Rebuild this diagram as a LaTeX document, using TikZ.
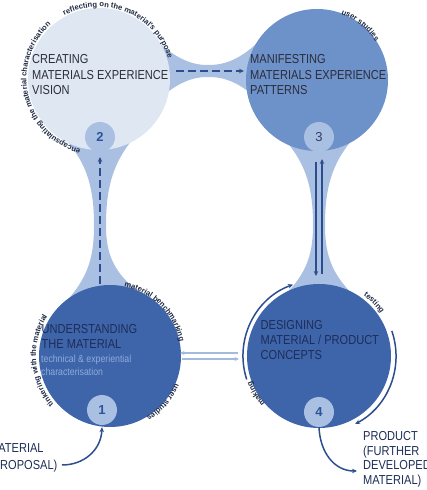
\documentclass[tikz,border=0pt]{standalone}
\usepackage{fontspec}
\setmainfont{Liberation Sans}
\newfontfamily\ttlfont[FakeStretch=0.85]{Liberation Sans}
\newfontfamily\arcfont{Liberation Sans}
\usetikzlibrary{decorations.text,arrows.meta}
\definecolor{lightc}{HTML}{DFE7F3}
\definecolor{midc}{HTML}{6D91C9}
\definecolor{darkc}{HTML}{3E64AA}
\definecolor{bridgec}{HTML}{A9C0E2}
\definecolor{arrowc}{HTML}{2D4E8E}
\definecolor{arctxt}{HTML}{1E2A44}
\definecolor{ttlgray}{HTML}{2B2D3A}
\definecolor{ttlnavy}{HTML}{1E2D58}
\definecolor{softtxt}{HTML}{8FACDA}
\definecolor{lightarr}{HTML}{A3B9DD}
\definecolor{numc}{HTML}{2F5399}
\begin{document}
\begin{tikzpicture}[x=1pt,y=1pt,
  bigc/.style={circle,inner sep=0pt,minimum size=#1},
  smallc/.style={circle,inner sep=0pt,minimum size=30pt,fill=bridgec,
     font=\fontsize{13}{13}\selectfont\bfseries,text=numc},
  ttl/.style={inner sep=0pt,anchor=base west,font=\ttlfont\fontsize{13}{15}\selectfont},
  soft/.style={inner sep=0pt,anchor=base west,text=softtxt,font=\ttlfont\fontsize{10.3}{13}\selectfont},
  dasharrow/.style={draw=arrowc,line width=1.5pt,dash pattern=on 8pt off 4pt,-{Stealth[length=5pt,width=4.5pt]}},
  darkarrow/.style={draw=arrowc,line width=1.5pt,-{Stealth[length=5pt,width=4.5pt]}},
  lightarrow/.style={draw=lightarr,line width=1.4pt,-{Stealth[length=4.5pt,width=4pt]}},
  arctext/.style={decorate,decoration={text along path,text align=center,
     text color=arctxt,text={|\arcfont\bfseries\fontsize{7.6}{8}\selectfont|#1}}}
]
\useasboundingbox (0,0) rectangle (426,490);
\clip (0,0) rectangle (426,490);

% bridges
\fill[bridgec] (150,455) .. controls (178,428) and (195,425) .. (208,425)
  .. controls (222,425) and (240,428) .. (265,455) -- (265,383)
  .. controls (240,410) and (222,413) .. (208,413)
  .. controls (195,413) and (178,410) .. (150,383) -- cycle;
\fill[bridgec] (66,350) .. controls (88,325) and (94,300) .. (94,265)
  .. controls (94,232) and (88,212) .. (64,186) -- (156,186)
  .. controls (115,212) and (106,232) .. (106,265)
  .. controls (106,300) and (112,325) .. (132,350) -- cycle;
\fill[bridgec] (285,350) .. controls (307,325) and (313,300) .. (313,265)
  .. controls (313,232) and (305,212) .. (275,186) -- (363,186)
  .. controls (333,212) and (325,232) .. (325,265)
  .. controls (325,300) and (331,325) .. (352,350) -- cycle;

% big circles
\node[bigc=142pt,fill=lightc] (C2) at (99,411) {};
\node[bigc=142pt,fill=midc] (C3) at (317,410) {};
\node[bigc=142pt,fill=darkc] (C1) at (110,134) {};
\node[bigc=144pt,fill=darkc] (C4) at (319,134) {};

% small circles
\node[smallc] (S2) at (100,353) {2};
\node[smallc,text=ttlnavy!80!gray,font=\fontsize{13}{13}\selectfont] (S3) at (319,353) {3};
\node[smallc] (S1) at (102,80) {1};
\node[smallc] (S4) at (319,78) {4};

% titles
\node[ttl,text=ttlgray] (t2a) at (32,426) {CREATING};
\node[ttl,text=ttlgray] (t2b) at (32,410.5) {MATERIALS EXPERIENCE};
\node[ttl,text=ttlgray] (t2c) at (32,395) {VISION};
\node[ttl,text=ttlgray] (t3a) at (250,426) {MANIFESTING};
\node[ttl,text=ttlgray] (t3b) at (250,410.5) {MATERIALS EXPERIENCE};
\node[ttl,text=ttlgray] (t3c) at (250,395.5) {PATTERNS};
\node[ttl,text=ttlnavy] (t1a) at (41.5,156.5) {UNDERSTANDING};
\node[ttl,text=ttlnavy] (t1b) at (41.5,141.5) {THE MATERIAL};
\node[soft] (t1c) at (41,127) {technical \& experiential};
\node[soft] (t1d) at (41,114) {characterisation};
\node[ttl,text=ttlnavy] (t4a) at (260.5,160) {DESIGNING};
\node[ttl,text=ttlnavy] (t4b) at (260.5,145) {MATERIAL / PRODUCT};
\node[ttl,text=ttlnavy] (t4c) at (260.5,130) {CONCEPTS};
\node[ttl,text=ttlnavy] (inA1) at (-11,37) {MATERIAL};
\node[ttl,text=ttlnavy] (inA2) at (-11,20) {(PROPOSAL)};
\node[ttl,text=ttlnavy] (outA) at (363,49) {PRODUCT};
\node[ttl,text=ttlnavy] (outB) at (363,34.5) {(FURTHER};
\node[ttl,text=ttlnavy] (outC) at (363,20) {DEVELOPED};
\node[ttl,text=ttlnavy] (outD) at (363,5.5) {MATERIAL)};

% connectors
\coordinate (a2s) at (176,419);
\coordinate (a3e) at (244,419);
\draw[dasharrow] (a2s) -- (a3e);
\coordinate (a1s) at (100,206);
\coordinate (a2e) at (100,333);
\draw[dasharrow] (a1s) -- (a2e);
\coordinate (b3s) at (316,328);
\coordinate (b4e) at (316,214);
\draw[darkarrow] (b3s) -- (b4e);
\coordinate (b4s) at (322,216);
\coordinate (b3e) at (322,331);
\draw[darkarrow] (b4s) -- (b3e);
\coordinate (c4s) at (238,137);
\coordinate (c1e) at (180,137);
\draw[lightarrow] (c4s) -- (c1e);
\coordinate (c1s) at (182,131);
\coordinate (c4e) at (239,131);
\draw[lightarrow] (c1s) -- (c4e);
\coordinate (inS) at (62,25);
\draw[darkarrow] (inS) .. controls (84,25) and (101,40) .. ([yshift=-2pt]S1.south);
\coordinate (outE) at (357,19);
\draw[darkarrow] (S4.south) .. controls (320,38) and (334,19) .. (outE);
\draw[darkarrow] (C4.center) ++(198:76) arc[start angle=198,end angle=110,radius=76];
\draw[darkarrow] (C4.center) ++(19:77) arc[start angle=19,end angle=-62,radius=77];

% curved labels
\path[arctext={reflecting on the material's purpose}] (C2.center) ++(157.5:72) arc[start angle=157.5,end angle=-22.5,radius=72];
\path[arctext={encapsulating the material characterisation}] (C2.center) ++(283.5:72.5) arc[start angle=283.5,end angle=103.5,radius=72.5];
\path[arctext={user studies}] (C3.center) ++(141.5:70) arc[start angle=141.5,end angle=-38.5,radius=70];
\path[arctext={material benchmarking}] (C1.center) ++(135:71) arc[start angle=135,end angle=-45,radius=71];
\path[arctext={user studies}] (C1.center) ++(49:71) arc[start angle=49,end angle=-131,radius=71];
\path[arctext={tinkering with the material}] (C1.center) ++(274:74) arc[start angle=274,end angle=94,radius=74];
\path[arctext={testing}] (C4.center) ++(134:75) arc[start angle=134,end angle=-46,radius=75];
\path[arctext={making}] (C4.center) ++(301:72) arc[start angle=301,end angle=121,radius=72];
\end{tikzpicture}
\end{document}
